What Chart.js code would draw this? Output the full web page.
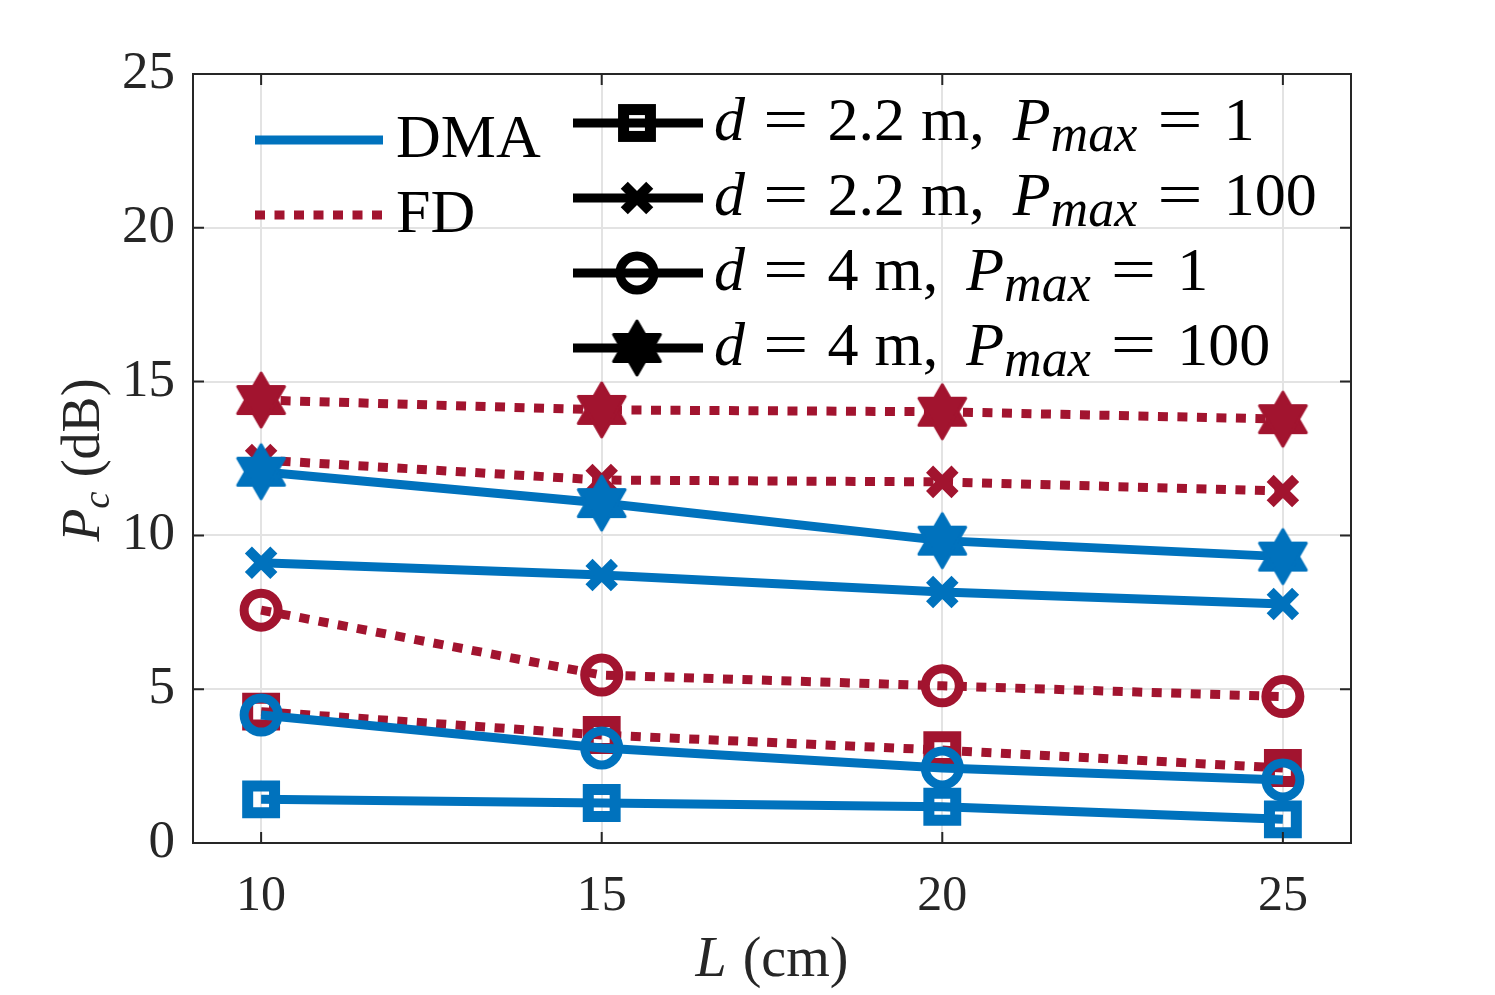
<!DOCTYPE html>
<html><head><meta charset="utf-8">
<script src="https://cdn.jsdelivr.net/npm/chart.js@4/dist/chart.umd.min.js"></script>
<style>html,body{margin:0;padding:0;background:#fff;overflow:hidden}</style>
</head><body>
<canvas id="c" width="1495" height="995" style="display:block;width:1495px;height:995px"></canvas>
<script>
// ---- data ----
const lengthsCm = [10, 15, 20, 25];
const xTicks = [10, 15, 20, 25];
const yTicks = [0, 5, 10, 15, 20, 25];
const dmaSquare = [1.42, 1.30, 1.18, 0.77];   // d = 2.2 m, Pmax = 1
const dmaCross  = [9.11, 8.71, 8.16, 7.77];   // d = 2.2 m, Pmax = 100
const dmaCircle = [4.16, 3.09, 2.44, 2.05];   // d = 4 m, Pmax = 1
const dmaStar   = [12.07, 11.05, 9.83, 9.31]; // d = 4 m, Pmax = 100
const fdSquare  = [4.27, 3.51, 3.02, 2.44];
const fdCross   = [12.45, 11.80, 11.74, 11.44];
const fdCircle  = [7.57, 5.46, 5.11, 4.76];
const fdStar    = [14.40, 14.08, 14.02, 13.78];
const methodLabels = ['DMA', 'FD'];
const caseD = ['2.2', '2.2', '4', '4'];
const caseP = ['1', '100', '1', '100'];
const xTitle = ['L', '(cm)'];
const yTitle = ['P', 'c', '(dB)'];

const BLUE = '#0072BD', RED = '#A2142F', INK = '#262626';
const SERIF = '"Liberation Serif", "Times New Roman", serif';

function hexagram(color, R) {
  const lw = 3;
  const c = document.createElement('canvas');
  const w = Math.ceil(Math.sqrt(3) * R + lw * 2 + 2), h = Math.ceil(2 * R + lw * 2 + 4);
  c.width = w; c.height = h;
  const g = c.getContext('2d');
  const cx = w / 2, cy = h / 2;
  g.fillStyle = color; g.strokeStyle = color; g.lineWidth = lw; g.lineJoin = 'round';
  for (const rot of [-90, 90]) {
    g.beginPath();
    for (let k = 0; k < 3; k++) {
      const a = (rot + 120 * k) * Math.PI / 180;
      const px = cx + R * Math.cos(a), py = cy + R * Math.sin(a);
      k ? g.lineTo(px, py) : g.moveTo(px, py);
    }
    g.closePath(); g.fill(); g.stroke();
  }
  return c;
}
const starBlue = hexagram(BLUE, 27), starRed = hexagram(RED, 27), starBlack = hexagram('#000', 27);

const markerSpec = {
  square: { pointStyle: 'rect', pointRadius: 19, pointBorderWidth: 11 },
  cross:  { pointStyle: 'crossRot', pointRadius: 18, pointBorderWidth: 10 },
  circle: { pointStyle: 'circle', pointRadius: 17, pointBorderWidth: 9 },
};

function ds(values, color, dashed, marker, starImg) {
  const spec = marker === 'star' ? { pointStyle: starImg, pointRadius: 20, pointBorderWidth: 1 } : markerSpec[marker];
  return Object.assign({
    data: lengthsCm.map((x, i) => ({ x: x, y: values[i] })),
    borderColor: color,
    backgroundColor: 'rgba(0,0,0,0)',
    pointBorderColor: color,
    pointBackgroundColor: 'rgba(0,0,0,0)',
    borderWidth: 9,
    borderDash: dashed ? [10, 9.5] : [],
    borderCapStyle: 'butt',
    tension: 0,
    fill: false,
  }, spec);
}

// items: {t, it, sub, gap, sx}
function drawRun(ctx, x, y, items, size, align) {
  const fontOf = p => (p.it ? 'italic ' : '') + (p.sub ? size * p.sub : size) + 'px ' + SERIF;
  const widths = items.map(p => { ctx.font = fontOf(p); return ctx.measureText(p.t).width * (p.sx || 1) + (p.gap || 0); });
  const total = widths.reduce((a, b) => a + b, 0);
  let cx = align === 'center' ? x - total / 2 : x;
  ctx.textBaseline = 'alphabetic'; ctx.textAlign = 'left';
  items.forEach((p, i) => {
    ctx.font = fontOf(p);
    const gx = cx + (p.gap || 0);
    const gy = p.sub ? y + size * 0.18 : y;
    if (p.sx) { ctx.save(); ctx.translate(gx, gy); ctx.scale(p.sx, 1); ctx.fillText(p.t, 0, 0); ctx.restore(); }
    else ctx.fillText(p.t, gx, gy);
    cx += widths[i];
  });
  return total;
}

function legendMarker(ctx, kind, x, y) {
  ctx.save();
  ctx.strokeStyle = '#000'; ctx.fillStyle = '#000'; ctx.setLineDash([]);
  if (kind === 'square') {
    const s = Math.SQRT1_2 * 19; ctx.lineWidth = 11;
    ctx.strokeRect(x - s, y - s, 2 * s, 2 * s);
  } else if (kind === 'cross') {
    const o = Math.SQRT1_2 * 18; ctx.lineWidth = 10; ctx.beginPath();
    ctx.moveTo(x - o, y - o); ctx.lineTo(x + o, y + o);
    ctx.moveTo(x + o, y - o); ctx.lineTo(x - o, y + o); ctx.stroke();
  } else if (kind === 'circle') {
    ctx.lineWidth = 9; ctx.beginPath(); ctx.arc(x, y, 17, 0, Math.PI * 2); ctx.stroke();
  } else {
    ctx.drawImage(starBlack, x - starBlack.width / 2, y - starBlack.height / 2);
  }
  ctx.restore();
}

const decor = {
  id: 'decor',
  afterDatasetsDraw(chart) {
    const ctx = chart.ctx, a = chart.chartArea;
    const xs = chart.scales.x, ys = chart.scales.y;
    ctx.save();
    ctx.strokeStyle = INK; ctx.lineWidth = 2; ctx.setLineDash([]);
    ctx.strokeRect(a.left, a.top, a.right - a.left, a.bottom - a.top);
    ctx.beginPath();
    const tl = 11;
    xTicks.forEach(v => { const px = xs.getPixelForValue(v);
      ctx.moveTo(px, a.bottom); ctx.lineTo(px, a.bottom - tl);
      ctx.moveTo(px, a.top); ctx.lineTo(px, a.top + tl); });
    yTicks.forEach(v => { const py = ys.getPixelForValue(v);
      ctx.moveTo(a.left, py); ctx.lineTo(a.left + tl, py);
      ctx.moveTo(a.right, py); ctx.lineTo(a.right - tl, py); });
    ctx.stroke();

    // axis titles
    ctx.fillStyle = INK;
    drawRun(ctx, 772, 976, [{ t: xTitle[0], it: true }, { t: xTitle[1], gap: 16 }], 56, 'center');
    ctx.save();
    ctx.translate(80, 460); ctx.rotate(-Math.PI / 2);
    drawRun(ctx, 0, 19, [{ t: yTitle[0], it: true }, { t: yTitle[1], it: true, sub: 0.72 }, { t: yTitle[2], gap: 14 }], 54, 'center');
    ctx.restore();

    // legend 1 (methods)
    ctx.lineCap = 'butt';
    ctx.strokeStyle = BLUE; ctx.lineWidth = 9; ctx.beginPath();
    ctx.moveTo(255, 140); ctx.lineTo(383, 140); ctx.stroke();
    ctx.strokeStyle = RED; ctx.setLineDash([10, 9.5]); ctx.beginPath();
    ctx.moveTo(255, 215); ctx.lineTo(383, 215); ctx.stroke();
    ctx.setLineDash([]);
    ctx.fillStyle = '#000';
    drawRun(ctx, 396, 157, [{ t: methodLabels[0] }], 62, 'left');
    drawRun(ctx, 396, 232, [{ t: methodLabels[1] }], 62, 'left');

    // legend 2 (cases)
    const kinds = ['square', 'cross', 'circle', 'star'];
    for (let i = 0; i < 4; i++) {
      const y = 123 + 75 * i;
      ctx.strokeStyle = '#000'; ctx.lineWidth = 9; ctx.beginPath();
      ctx.moveTo(573, y); ctx.lineTo(703, y); ctx.stroke();
      legendMarker(ctx, kinds[i], 637, y);
      ctx.fillStyle = '#000';
      drawRun(ctx, 714, y + 17, [
        { t: 'd', it: true },
        { t: '=', gap: 18, sx: 1.3 },
        { t: caseD[i], gap: 19 },
        { t: 'm,', gap: 16 },
        { t: 'P', it: true, gap: 28 },
        { t: 'max', it: true, sub: 0.84 },
        { t: '=', gap: 20, sx: 1.3 },
        { t: caseP[i], gap: 21 }
      ], 62, 'left');
    }
    ctx.restore();
  }
};

new Chart(document.getElementById('c'), {
  type: 'line',
  data: {
    datasets: [
      ds(dmaSquare, BLUE, false, 'square'),
      ds(dmaCross, BLUE, false, 'cross'),
      ds(dmaCircle, BLUE, false, 'circle'),
      ds(dmaStar, BLUE, false, 'star', starBlue),
      ds(fdSquare, RED, true, 'square'),
      ds(fdCross, RED, true, 'cross'),
      ds(fdCircle, RED, true, 'circle'),
      ds(fdStar, RED, true, 'star', starRed),
    ]
  },
  options: {
    responsive: false,
    devicePixelRatio: 1,
    animation: false,
    events: [],
    layout: { padding: { left: 0, top: 74, right: 144, bottom: 0 } },
    plugins: { legend: { display: false }, tooltip: { enabled: false }, title: { display: false } },
    scales: {
      x: {
        type: 'linear', min: 9, max: 26,
        afterBuildTicks: s => { s.ticks = xTicks.map(v => ({ value: v })); },
        afterFit: s => { s.height = 152; },
        grid: { color: '#e3e3e3', lineWidth: 2, drawTicks: false },
        border: { display: true, color: INK, width: 2 },
        ticks: { font: { family: SERIF, size: 50 }, color: INK, padding: 24, maxRotation: 0 }
      },
      y: {
        type: 'linear', min: 0, max: 25,
        afterBuildTicks: s => { s.ticks = yTicks.map(v => ({ value: v })); },
        afterFit: s => { s.width = 193; },
        grid: { color: '#e3e3e3', lineWidth: 2, drawTicks: false },
        border: { display: true, color: INK, width: 2 },
        ticks: { font: { family: SERIF, size: 53 }, color: INK, padding: 18 }
      }
    }
  },
  plugins: [decor]
});
</script>
</body></html>
